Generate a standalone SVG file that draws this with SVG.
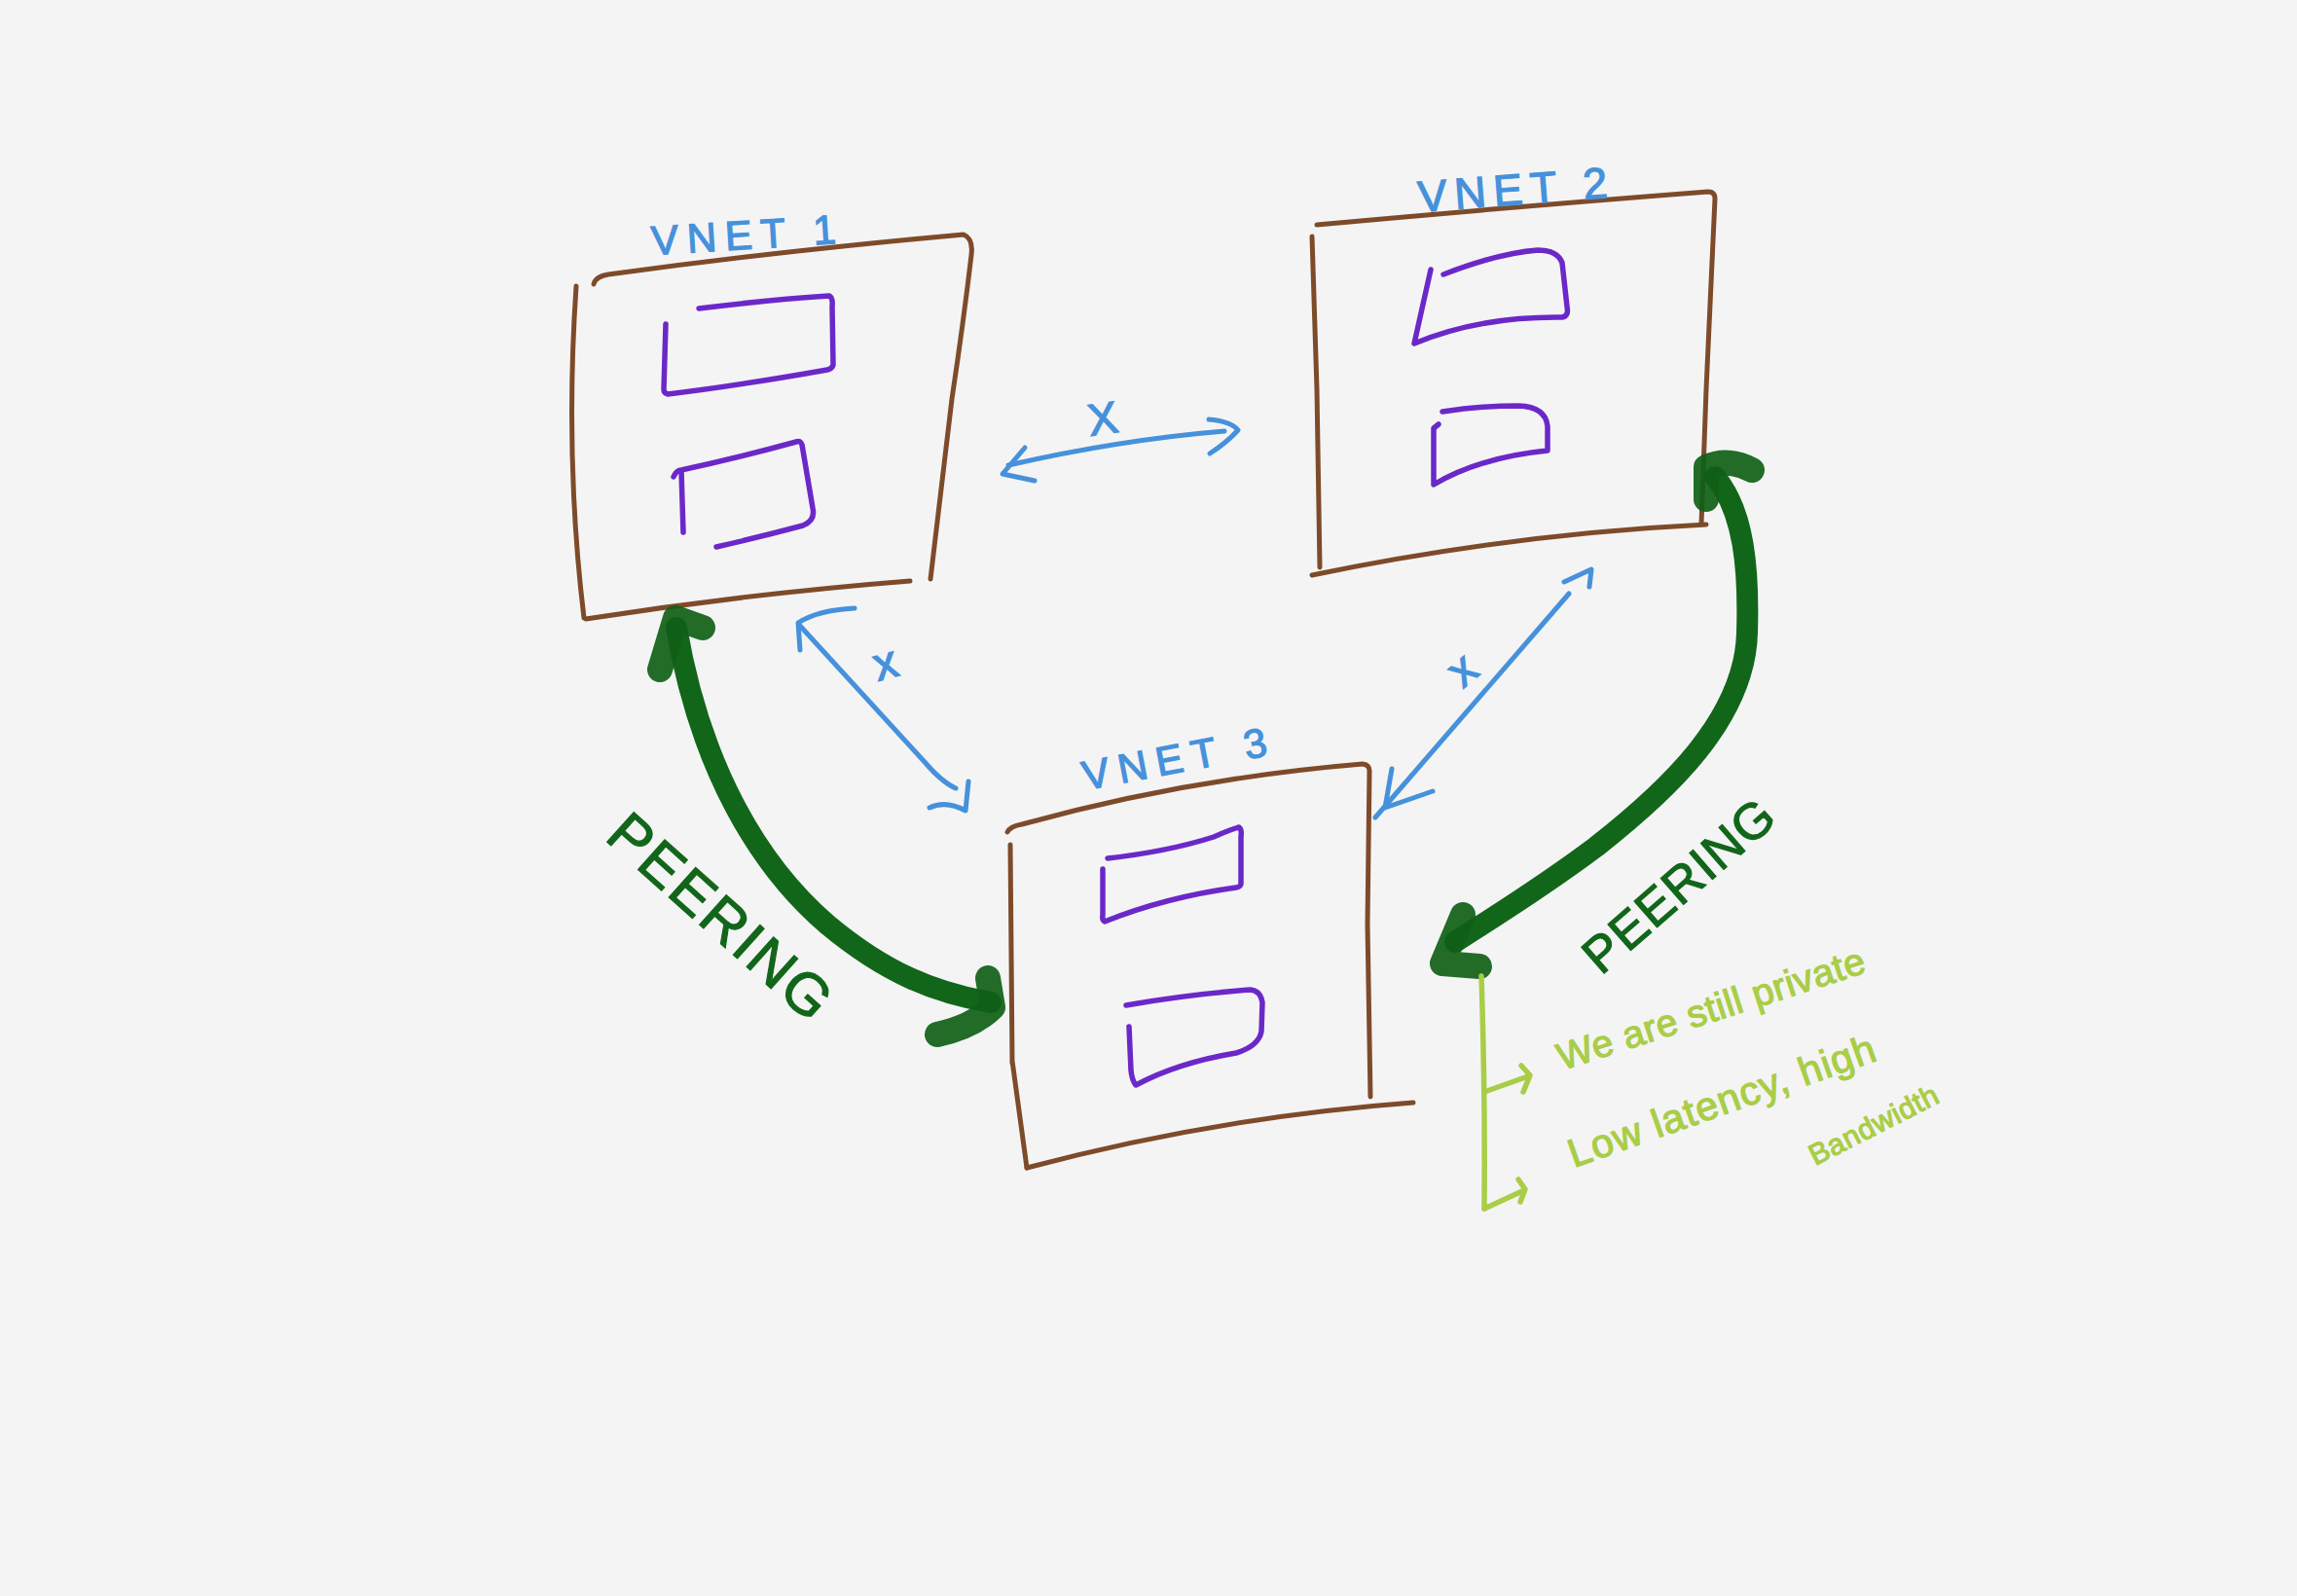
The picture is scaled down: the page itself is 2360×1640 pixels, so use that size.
<svg xmlns="http://www.w3.org/2000/svg" width="2360" height="1640" viewBox="0 0 2360 1640">
<style>
.box{fill:none;stroke:#7d4b2a;stroke-width:5;stroke-linecap:round;stroke-linejoin:round}
.sub{fill:none;stroke:#6b28c9;stroke-width:5.5;stroke-linecap:round;stroke-linejoin:round}
.blue{fill:none;stroke:#4691db;stroke-width:5;stroke-linecap:round;stroke-linejoin:round}
.peer{fill:none;stroke:#12661a;stroke-width:22;stroke-linecap:round;stroke-linejoin:round}
.peerhead{fill:none;stroke:#0f5f16;stroke-width:26;stroke-linecap:round;stroke-linejoin:round;stroke-opacity:0.92}
.note{fill:none;stroke:#a9cd47;stroke-width:5.5;stroke-linecap:round;stroke-linejoin:round}
.lbl{font-family:"Liberation Sans",Arial,sans-serif;fill:#4691db;stroke:#4691db;stroke-width:1.3}
.pt{font-family:"Liberation Sans",Arial,sans-serif;fill:#12661a;stroke:#12661a;stroke-width:1.2}
.nt{font-family:"Liberation Sans",Arial,sans-serif;fill:#a9cd47;stroke:#a9cd47;stroke-width:1.2}
</style>
<rect x="0" y="0" width="2360" height="1640" fill="#f4f4f4"/>

<g id="vnet1">
  <path class="box" d="M610,292 Q612,284 625,282 Q800,258 990,241 Q1000,245 998,262 Q990,330 978,410 L956,595"/>
  <path class="box" d="M592,294 Q580,470 600,635"/>
  <path class="box" d="M602,636 Q770,610 935,597"/>
  <path class="sub" d="M718,317 Q790,308 852,304 Q856,306 855,315 L856,375 Q855,379 850,380 Q760,396 686,405 Q682,404 682,400 L684,333"/>
  <path class="sub" d="M692,490 Q695,483 700,483 Q760,470 818,454 Q822,452 824,457 L835,522 Q838,535 825,540 Q780,552 736,562"/>
  <path class="sub" d="M700,484 L702,547"/>
  <text class="lbl" x="670" y="262" font-size="42" textLength="190" lengthAdjust="spacing" transform="rotate(-3.6 670 262)">VNET 1</text>
</g>

<g id="vnet2">
  <path class="box" d="M1353,231 Q1560,212 1755,197 Q1762,197 1762,204 L1753,400 L1748,539"/>
  <path class="box" d="M1348,243 L1353,400 L1356,583"/>
  <path class="box" d="M1348,591 Q1550,549 1753,539"/>
  <path class="sub" d="M1470,277 L1453,353 Q1520,325 1605,326 Q1612,325 1610,315 L1605,270 Q1600,257 1580,257 Q1540,260 1483,282"/>
  <path class="sub" d="M1478,436 L1473,440 L1473,498 Q1520,470 1590,463 L1590,438 Q1588,418 1560,417 Q1520,417 1482,423"/>
  <text class="lbl" x="1458" y="218" font-size="45" textLength="195" lengthAdjust="spacing" transform="rotate(-4.4 1458 218)">VNET 2</text>
</g>

<g id="vnet3">
  <path class="box" d="M1035,855 Q1038,849 1050,847 Q1220,800 1400,785 Q1407,786 1407,792 L1405,950 L1408,1127"/>
  <path class="box" d="M1038,868 L1040,1093 M1040,1090 L1055,1200"/>
  <path class="box" d="M1055,1200 Q1250,1148 1452,1133"/>
  <path class="sub" d="M1138,882 Q1200,875 1247,860 Q1265,852 1273,850 Q1276,852 1275,860 L1275,908 Q1275,911 1270,912 Q1197,922 1135,947 Q1132,945 1133,940 L1133,893"/>
  <path class="sub" d="M1157,1033 Q1220,1022 1285,1017 Q1295,1018 1297,1030 L1296,1060 Q1293,1075 1270,1082 Q1210,1092 1167,1115 Q1163,1110 1162,1100 L1160,1055"/>
  <text class="lbl" x="1115" y="812" font-size="42" textLength="192" lengthAdjust="spacing" transform="rotate(-10.8 1115 812)">VNET 3</text>
</g>

<g id="connectors">
  <!-- VNET1 <-> VNET2 blocked -->
  <path class="blue" d="M1036,478 Q1150,452 1258,443"/>
  <path class="blue" d="M1053,460 L1030,487 L1063,494"/>
  <path class="blue" d="M1242,431 Q1265,433 1272,442 Q1260,455 1243,466"/>
  <text class="lbl" x="1120" y="448" font-size="46" transform="rotate(-8 1120 448)">X</text>

  <!-- VNET1 <-> VNET3 blocked -->
  <path class="blue" d="M821,642 L950,783 Q968,804 982,810"/>
  <path class="blue" d="M878,625 Q840,627 820,640 L822,668"/>
  <path class="blue" d="M995,803 L992,833 Q972,822 955,830"/>
  <text class="lbl" x="902" y="700" font-size="48" transform="rotate(-15 902 700)">x</text>

  <!-- VNET2 <-> VNET3 blocked -->
  <path class="blue" d="M1612,610 L1413,840"/>
  <path class="blue" d="M1607,598 L1635,585 L1633,603"/>
  <path class="blue" d="M1430,790 L1423,830 L1472,813"/>
  <text class="lbl" x="1503" y="708" font-size="48" transform="rotate(-40 1503 708)">x</text>

  <!-- Peering VNET1 <-> VNET3 -->
  <path class="peer" d="M695,645 C720,790 780,890 850,950 C910,1000 960,1020 1018,1030"/>
  <path class="peerhead" d="M678,688 L694,635 L722,645"/>
  <path class="peerhead" d="M1015,1005 L1020,1035 Q1000,1055 963,1063"/>
  <text class="pt" x="620" y="862" font-size="60" textLength="285" lengthAdjust="spacing" transform="rotate(41.8 620 862)">PEERING</text>

  <!-- Peering VNET2 <-> VNET3 -->
  <path class="peer" d="M1762,490 C1792,525 1797,585 1795,650 C1793,740 1710,815 1640,870 C1580,915 1530,945 1495,968"/>
  <path class="peerhead" d="M1753,513 L1753,480 Q1775,470 1800,483"/>
  <path class="peerhead" d="M1503,940 L1482,990 L1520,993"/>
  <text class="pt" x="1645" y="1003" font-size="52" textLength="242" lengthAdjust="spacing" transform="rotate(-41 1645 1003)">PEERING</text>

  <!-- notes -->
  <path class="note" d="M1522,1003 Q1526,1120 1525,1242"/>
  <path class="note" d="M1525,1122 L1570,1106"/>
  <path class="note" d="M1563,1095 L1572,1105 L1565,1122"/>
  <path class="note" d="M1525,1242 L1566,1223"/>
  <path class="note" d="M1560,1212 L1567,1222 L1562,1235"/>
</g>

<g id="notes">
  <text class="nt" x="1605" y="1100" font-size="39" textLength="330" lengthAdjust="spacing" transform="rotate(-17.9 1605 1100)">We are still private</text>
  <text class="nt" x="1617" y="1200" font-size="41" textLength="332" lengthAdjust="spacing" transform="rotate(-19.5 1617 1200)">Low latency, high</text>
  <text class="nt" x="1865" y="1198" font-size="30" textLength="145" lengthAdjust="spacing" transform="rotate(-27 1865 1198)">Bandwidth</text>
</g>
</svg>
